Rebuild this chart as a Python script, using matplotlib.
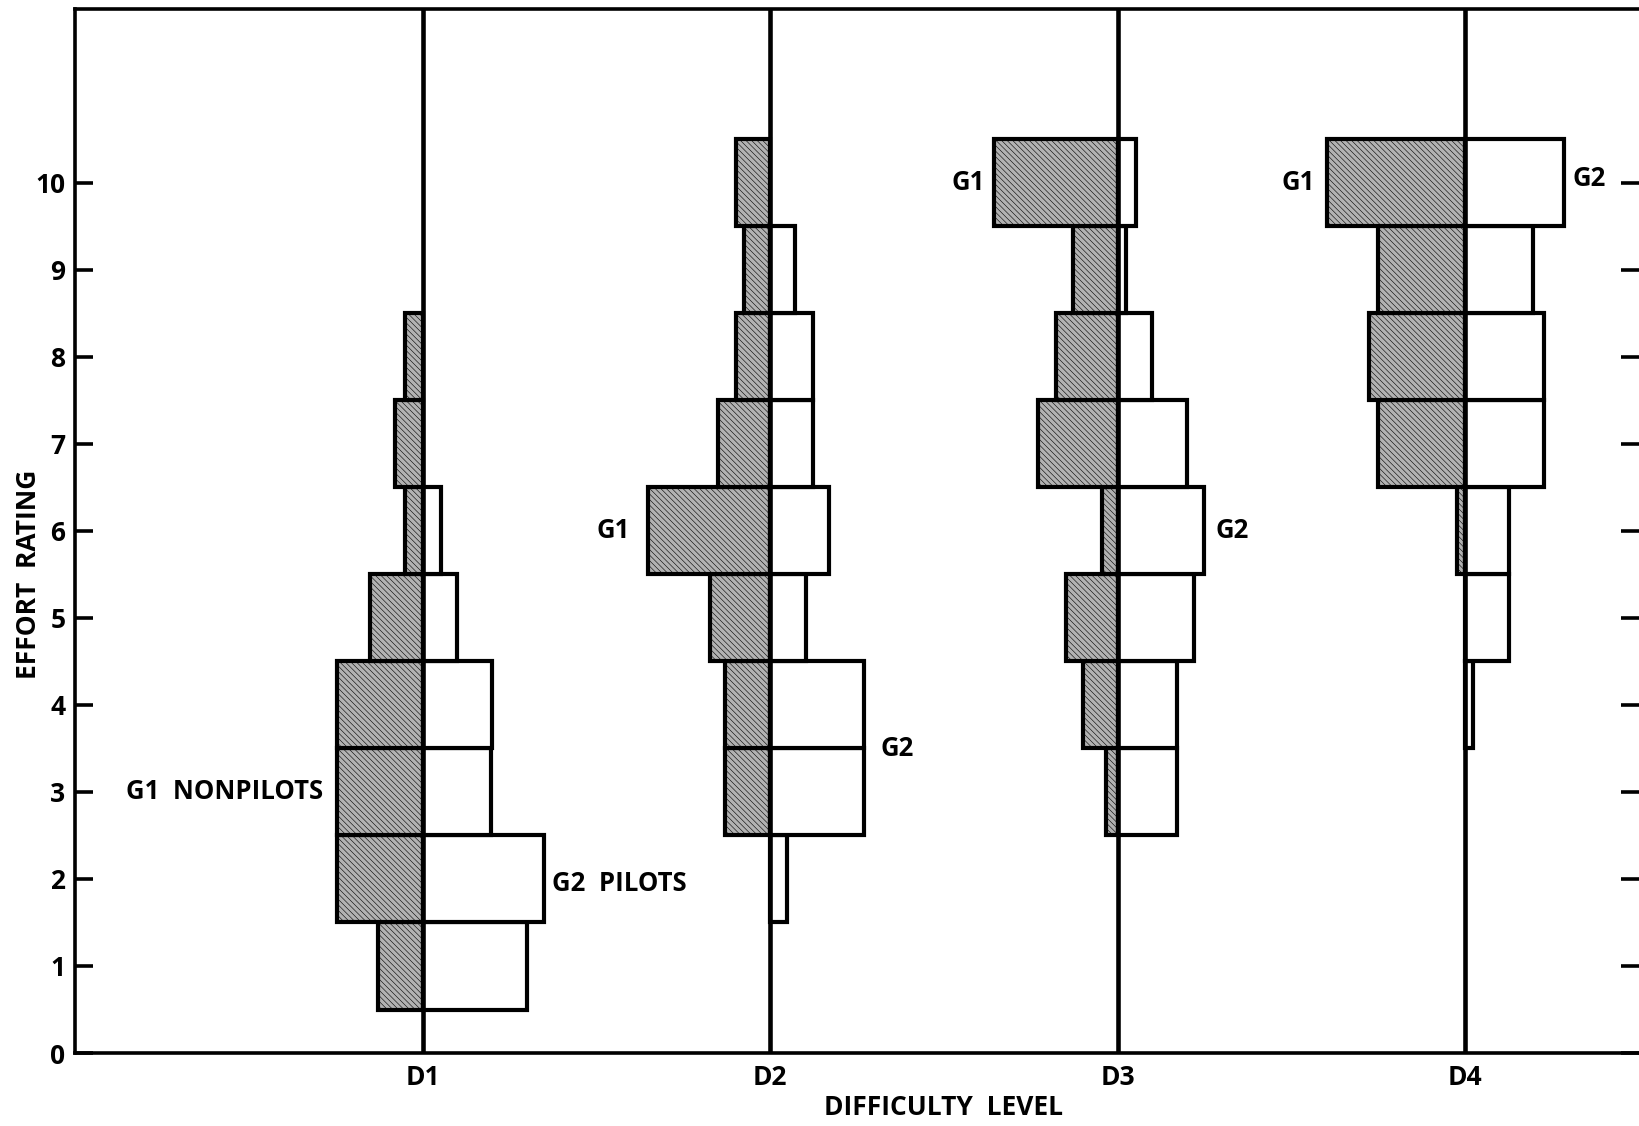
import numpy as np
import matplotlib
matplotlib.use('Agg')
import matplotlib.pyplot as plt

# effort rating levels (rows) and difficulty levels (columns)
ratings = np.arange(1, 11)
levels = ['D1', 'D2', 'D3', 'D4']

# percent of each group giving each rating (1..10)
g1_nonpilots = {
    'D1': [10.8, 20.5, 20.5, 20.5, 12.5, 4.3, 6.5, 4.3, 0, 0],
    'D2': [0, 0, 10.8, 10.8, 14.5, 29.3, 12.5, 8.3, 6.3, 8.3],
    'D3': [0, 0, 2.8, 8.3, 12.3, 3.8, 19.0, 14.8, 10.8, 29.6],
    'D4': [0, 0, 0, 0, 0, 2.0, 21.0, 23.1, 21.0, 33.1],
}
g2_pilots = {
    'D1': [25.0, 29.1, 16.5, 16.7, 8.3, 4.5, 0, 0, 0, 0],
    'D2': [0, 4.0, 22.5, 22.5, 8.5, 14.0, 10.3, 10.3, 6.0, 0],
    'D3': [0, 0, 14.3, 14.3, 18.3, 20.8, 16.5, 8.3, 2.0, 4.3],
    'D4': [0, 0, 0, 1.8, 10.5, 10.5, 18.8, 18.8, 16.3, 23.8],
}

SCALE = 1.2 / 100.0      # x-units per percent
LW = 3.0
FS = 19

plt.rcParams['font.family'] = ['Open Sans', 'DejaVu Sans']
plt.rcParams['font.weight'] = 'bold'
plt.rcParams['hatch.linewidth'] = 0.4
plt.rcParams['hatch.color'] = '#8e8e8e'

fig = plt.figure(figsize=(16.39, 11.26), dpi=100)
ax = fig.add_axes([0.0458, 0.0648, 0.9542, 0.9276])

for i, lvl in enumerate(levels):
    center = i + 1
    w1 = np.array(g1_nonpilots[lvl]) * SCALE
    w2 = np.array(g2_pilots[lvl]) * SCALE
    m1 = w1 > 0
    m2 = w2 > 0
    ax.barh(ratings[m1], w1[m1], left=center - w1[m1], height=1.0,
            facecolor='#b2b2b2', hatch='\\\\\\\\\\\\', edgecolor='black',
            linewidth=LW, zorder=2)
    ax.barh(ratings[m2], w2[m2], left=center, height=1.0,
            facecolor='white', edgecolor='black', linewidth=LW, zorder=2)
    ax.axvline(center, color='black', linewidth=3.3, zorder=3)

# group labels
lab = dict(fontsize=18.5, fontweight='bold', va='center')
ax.text(0.715, 3.0, 'G1  NONPILOTS', ha='right', **lab)
ax.text(1.372, 1.95, 'G2  PILOTS', ha='left', **lab)
ax.text(1.597, 6.0, 'G1', ha='right', **lab)
ax.text(2.318, 3.5, 'G2', ha='left', **lab)
ax.text(2.619, 10.0, 'G1', ha='right', **lab)
ax.text(3.28, 6.0, 'G2', ha='left', **lab)
ax.text(3.568, 10.0, 'G1', ha='right', **lab)
ax.text(4.31, 10.05, 'G2', ha='left', **lab)

ax.set_xlim(0, 4.5)
ax.set_ylim(0, 12)
ax.set_yticks(range(0, 11))
ax.set_xticks(range(1, 5))
ax.set_xticklabels(levels)
ax.tick_params(axis='y', direction='in', length=13, width=2.6, right=True,
               labelsize=FS, pad=7)
ax.tick_params(axis='x', length=0, labelsize=FS, pad=8)
for lbl in ax.get_xticklabels() + ax.get_yticklabels():
    lbl.set_fontweight('bold')

for side in ['left', 'bottom', 'top']:
    ax.spines[side].set_linewidth(2.6)
ax.spines['right'].set_visible(False)

ax.text(2.5, -0.63, 'DIFFICULTY  LEVEL', ha='center', va='center',
        fontsize=FS, fontweight='bold')
ax.text(-0.135, 5.5, 'EFFORT  RATING', ha='center', va='center', rotation=90,
        fontsize=FS, fontweight='bold')

fig.savefig('out.png', dpi=100)
